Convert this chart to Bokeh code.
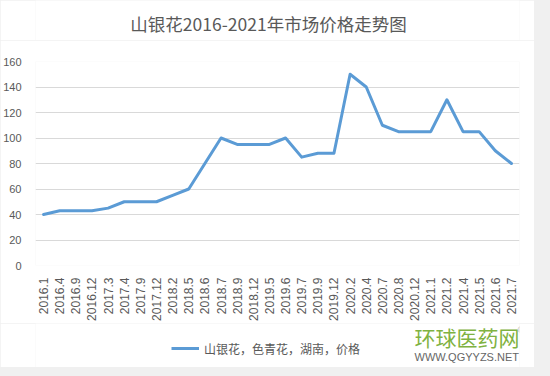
import math
from bokeh.plotting import figure
from bokeh.layouts import column
from bokeh.models import FactorRange, Range1d, Label, Legend, LegendItem, SingleIntervalTicker
from bokeh.embed import file_html
from bokeh.resources import INLINE

categories = ["2016.1", "2016.4", "2016.9", "2016.12", "2017.3", "2017.4", "2017.9", "2017.12",
              "2018.2", "2018.5", "2018.6", "2018.7", "2018.9", "2018.12", "2019.5", "2019.6",
              "2019.7", "2019.9", "2019.12", "2020.2", "2020.4", "2020.7", "2020.8", "2020.12",
              "2021.1", "2021.2", "2021.4", "2021.5", "2021.6", "2021.7"]
prices = [40, 43, 43, 43, 45, 50, 50, 50, 55, 60, 80, 100, 95, 95, 95, 100,
          85, 88, 88, 150, 140, 110, 105, 105, 105, 130, 105, 105, 90, 80]
series_name = "山银花，色青花，湖南，价格"
title_text = "山银花2016-2021年市场价格走势图"
watermark_cn = "环球医药网"
watermark_url = "WWW.QGYYZS.NET"

CJK = "Noto Sans CJK SC"
GRAY = "#595959"
LINE = "#5b9bd5"


def strip(h):
    s = figure(width=534, height=h, x_range=Range1d(0, 489), y_range=Range1d(-h, 0),
               output_backend="svg", toolbar_location=None, x_axis_type=None, y_axis_type=None,
               min_border_left=30, min_border_right=15, min_border_top=0, min_border_bottom=0)
    s.outline_line_color = None
    s.xgrid.grid_line_color = None
    s.ygrid.grid_line_color = None
    s.border_fill_color = "white"
    s.background_fill_color = "white"
    return s


# header strip with the title
hdr = strip(40)
hdr.add_layout(Label(x=233, y=17, x_units="screen", y_units="screen", text=title_text,
                     text_align="center", text_baseline="middle", text_font=CJK,
                     text_font_size="17.5px", text_color=GRAY))

# main chart
p = figure(width=534, height=283,
           x_range=FactorRange(*categories, range_padding=0, factor_padding=0),
           y_range=Range1d(0, 160), output_backend="svg", toolbar_location=None,
           min_border_left=30, min_border_right=15, min_border_top=21, min_border_bottom=50)

r = p.line(categories, prices, line_color=LINE, line_width=3, line_join="round", line_cap="round")

p.outline_line_color = None
p.background_fill_color = "white"
p.border_fill_color = "white"
p.xgrid.grid_line_color = None
p.ygrid.grid_line_color = "#d9d9d9"

p.yaxis.ticker = SingleIntervalTicker(interval=20)
for ax in (p.xaxis[0], p.yaxis[0]):
    ax.axis_line_color = None
    ax.major_tick_line_color = None
    ax.minor_tick_line_color = None
    ax.major_label_text_color = GRAY
    ax.major_label_text_font = "Liberation Sans"
p.yaxis.major_label_text_font_size = "11px"
p.xaxis.major_label_text_font_size = "12px"
p.xaxis.major_label_orientation = math.pi / 2
p.xaxis.major_label_standoff = 6
p.yaxis.major_label_standoff = 8

# footer strip: legend and watermark
f = strip(44)
# legend glyph proxy: same series, lies outside this strip's visible range
fr = f.line(list(range(len(prices))), prices, line_color=LINE, line_width=3)
legend = Legend(items=[LegendItem(label=series_name, renderers=[fr])], location=(136, 9),
                border_line_color=None, background_fill_alpha=0, label_text_font=CJK,
                label_text_font_size="12px", label_text_color=GRAY, glyph_width=28,
                label_standoff=5, padding=4, margin=0)
f.add_layout(legend)
f.add_layout(Label(x=379, y=31, x_units="screen", y_units="screen", text=watermark_cn,
                   text_baseline="middle", text_font=CJK, text_font_size="21px",
                   text_color="#7fb241"))
f.add_layout(Label(x=379, y=11, x_units="screen", y_units="screen", text=watermark_url,
                   text_baseline="alphabetic", text_font="Liberation Sans",
                   text_font_size="11px", text_color="#666666"))
f.add_layout(Label(x=489, y=43, x_units="screen", y_units="screen", text="®",
                   text_baseline="top", text_align="right", text_font="Liberation Sans",
                   text_font_size="9px", text_color="#999999"))

html = file_html(column(hdr, p, f, spacing=0), INLINE)
html = html.replace("</head>", "<style>html, body { background-color: #f0f0f0; }</style>\n</head>", 1)
open("out.html", "w").write(html)
